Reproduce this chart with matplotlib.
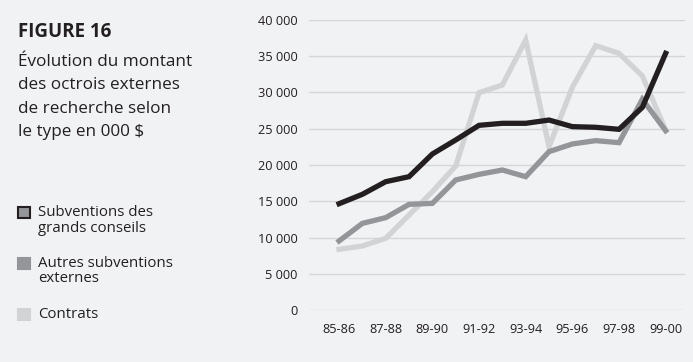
import matplotlib.pyplot as plt
from matplotlib.patches import Rectangle

plt.rcParams['font.family'] = ['Open Sans', 'DejaVu Sans']

annees = ['85-86', '86-87', '87-88', '88-89', '89-90', '90-91', '91-92', '92-93',
          '93-94', '94-95', '95-96', '96-97', '97-98', '98-99', '99-00']
grands_conseils = [14660, 15960, 17700, 18390, 21520, 23450, 25470, 25750,
                   25750, 26200, 25290, 25200, 24920, 27950, 35400]
autres = [9520, 11950, 12740, 14570, 14710, 17930, 18710, 19310,
          18390, 21840, 22900, 23360, 23080, 29060, 24730]
contrats = [8370, 8830, 9890, 13100, 16320, 19860, 29970, 31030,
            37240, 22520, 30720, 36460, 35400, 32280, 24830]

fond = '#f1f2f4'
noir = '#231f20'
gris = '#939598'
gris_clair = '#d1d3d4'

fig = plt.figure(figsize=(6.93, 3.62), dpi=100, facecolor=fond)
ax = fig.add_axes([0.4455, 0.1436, 0.543, 0.8012], facecolor=fond)

x = range(len(annees))
ax.plot(x, contrats, color=gris_clair, lw=3.8, solid_joinstyle='miter', zorder=3)
ax.plot(x, autres, color=gris, lw=3.8, solid_joinstyle='miter', zorder=4)
ax.plot(x, grands_conseils, color=noir, lw=3.8, solid_joinstyle='miter', zorder=5)

ax.set_ylim(0, 40000)
ax.set_xlim(-1.3, 14.83)
ax.set_yticks(range(0, 40001, 5000))
ax.set_yticklabels([f'{v:,}'.replace(',', ' ') for v in range(0, 40001, 5000)])
ax.set_xticks(list(x)[::2])
ax.set_xticklabels(annees[::2])
ax.grid(axis='y', color='#d4d6d9', lw=1)
ax.set_axisbelow(True)
for s in ax.spines.values():
    s.set_visible(False)
ax.tick_params(length=0, labelsize=9.2, colors='#231f20')
ax.tick_params(axis='y', pad=8)
ax.tick_params(axis='x', pad=9)

fig.text(0.026, 0.912, 'FIGURE 16', fontsize=13.5, fontweight='bold', color=noir, va='center')
fig.text(0.026, 0.732, 'Évolution du montant\ndes octrois externes\nde recherche selon\nle type en 000 $',
         fontsize=12.3, color=noir, va='center', linespacing=1.62)

# legende
items = [('Subventions des\ngrands conseils', gris, noir, 212.5),
         ('Autres subventions\nexternes', gris, gris, 263),
         ('Contrats', gris_clair, gris_clair, 314.5)]
for lab, fc, ec, ypx in items:
    yf = 1 - ypx / 362
    fig.add_artist(Rectangle((18 / 693, yf - 5.5 / 362), 12 / 693, 11 / 362,
                             facecolor=fc, edgecolor=ec, lw=1.5, transform=fig.transFigure))
    fig.text(38 / 693, yf + 7 / 362, lab, fontsize=10.8, color=noir, va='top', linespacing=1.03)

fig.savefig('out.png', dpi=100, facecolor=fond)
